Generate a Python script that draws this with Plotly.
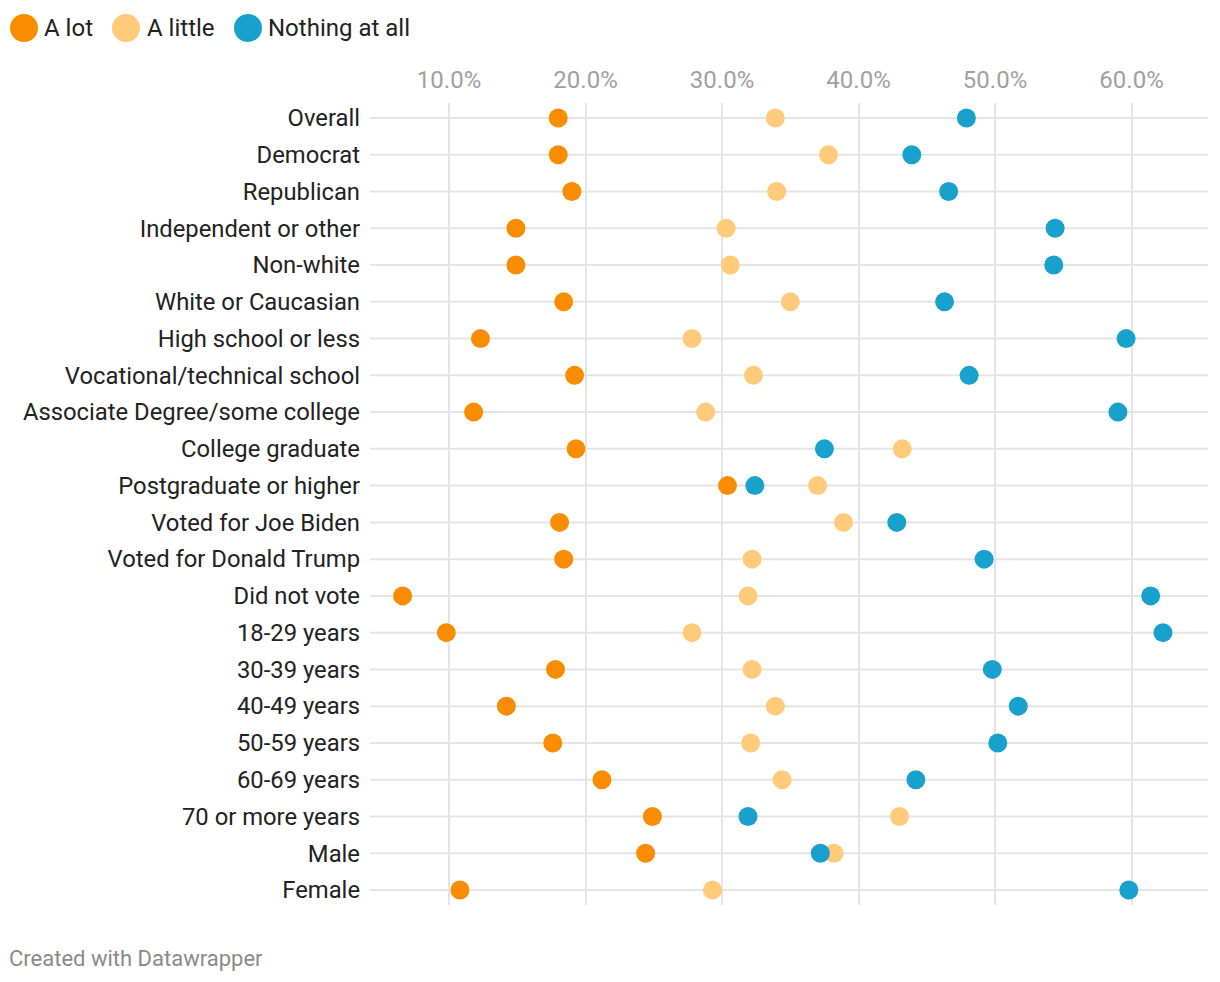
import plotly.graph_objects as go

categories = [
    "Overall", "Democrat", "Republican", "Independent or other", "Non-white",
    "White or Caucasian", "High school or less", "Vocational/technical school",
    "Associate Degree/some college", "College graduate", "Postgraduate or higher",
    "Voted for Joe Biden", "Voted for Donald Trump", "Did not vote", "18-29 years",
    "30-39 years", "40-49 years", "50-59 years", "60-69 years", "70 or more years",
    "Male", "Female",
]
a_lot = [18.0, 18.0, 19.0, 14.9, 14.9, 18.4, 12.3, 19.2, 11.8, 19.3, 30.4,
         18.1, 18.4, 6.6, 9.8, 17.8, 14.2, 17.6, 21.2, 24.9, 24.4, 10.8]
a_little = [33.9, 37.8, 34.0, 30.3, 30.6, 35.0, 27.8, 32.3, 28.8, 43.2, 37.0,
            38.9, 32.2, 31.9, 27.8, 32.2, 33.9, 32.1, 34.4, 43.0, 38.2, 29.3]
nothing = [47.9, 43.9, 46.6, 54.4, 54.3, 46.3, 59.6, 48.1, 59.0, 37.5, 32.4,
           42.8, 49.2, 61.4, 62.3, 49.8, 51.7, 50.2, 44.2, 31.9, 37.2, 59.8]
tick_vals = [10, 20, 30, 40, 50, 60]
tick_text = ["10.0%", "20.0%", "30.0%", "40.0%", "50.0%", "60.0%"]

series = [
    ("A lot", a_lot, "#fa8c00"),
    ("A little", a_little, "#ffca7a"),
    ("Nothing at all", nothing, "#18a1cd"),
]

OFF = 8  # page body margin
W, H = 1220 - OFF, 982 - OFF
ML, MR, MT, MB = 370 - OFF, 12, 103 - OFF, 77
PW, PH = W - ML - MR, H - MT - MB

fig = go.Figure()
for name, vals, col in [series[1], series[2], series[0]]:
    fig.add_trace(go.Scatter(
        x=vals, y=categories, mode="markers", name=name,
        marker=dict(size=19, color=col, line=dict(width=0)),
        hovertemplate="%{y}: %{x:.1f}%<extra>" + name + "</extra>",
    ))

# horizontal row lines
for c in categories:
    fig.add_shape(type="line", xref="paper", yref="y", x0=0, x1=1, y0=c, y1=c,
                  line=dict(color="#e4e4e4", width=2), layer="below")


def px_x(px):
    return (px - OFF - ML) / PW


def px_y(py):
    return (H - MB - (py - OFF)) / PH


# manual legend
leg_items = [("A lot", "#fa8c00", 24, 45), ("A little", "#ffca7a", 126, 148),
             ("Nothing at all", "#18a1cd", 248, 269)]
r = 14
cy = 28
for label, col, cx, tx in leg_items:
    fig.add_shape(type="circle", xref="paper", yref="paper",
                  x0=px_x(cx - r), x1=px_x(cx + r), y0=px_y(cy + r), y1=px_y(cy - r),
                  fillcolor=col, line=dict(width=0))
    fig.add_annotation(xref="paper", yref="paper", x=px_x(tx - 3), y=px_y(cy),
                       text=label, showarrow=False, xanchor="left", yanchor="middle",
                       font=dict(size=24, color="#222222", family="Roboto"))

fig.add_annotation(xref="paper", yref="paper", x=px_x(7), y=px_y(959),
                   text="Created with Datawrapper", showarrow=False,
                   xanchor="left", yanchor="middle",
                   font=dict(size=22, color="#8a8a8a", family="Roboto"))

fig.update_layout(
    width=W, height=H,
    margin=dict(l=ML, r=MR, t=MT, b=MB),
    paper_bgcolor="white", plot_bgcolor="white",
    showlegend=False,
    font=dict(family="Roboto", color="#222222"),
    xaxis=dict(
        side="top", range=[4.21, 65.6], tickvals=tick_vals, ticktext=tick_text,
        showgrid=True, gridcolor="#e4e4e4", gridwidth=2, zeroline=False,
        showline=False, ticks="", tickfont=dict(size=24, color="#a0a0a0", family="Roboto"),
        ticklabelstandoff=9, fixedrange=True,
    ),
    yaxis=dict(
        categoryorder="array", categoryarray=categories,
        range=[len(categories) - 1 + 0.41, -0.41],
        showgrid=False, zeroline=False, showline=False, ticks="",
        tickfont=dict(size=23.8, color="#222222", family="Roboto"),
        ticklabelstandoff=9, fixedrange=True,
    ),
)

fig.write_html("out.html")
